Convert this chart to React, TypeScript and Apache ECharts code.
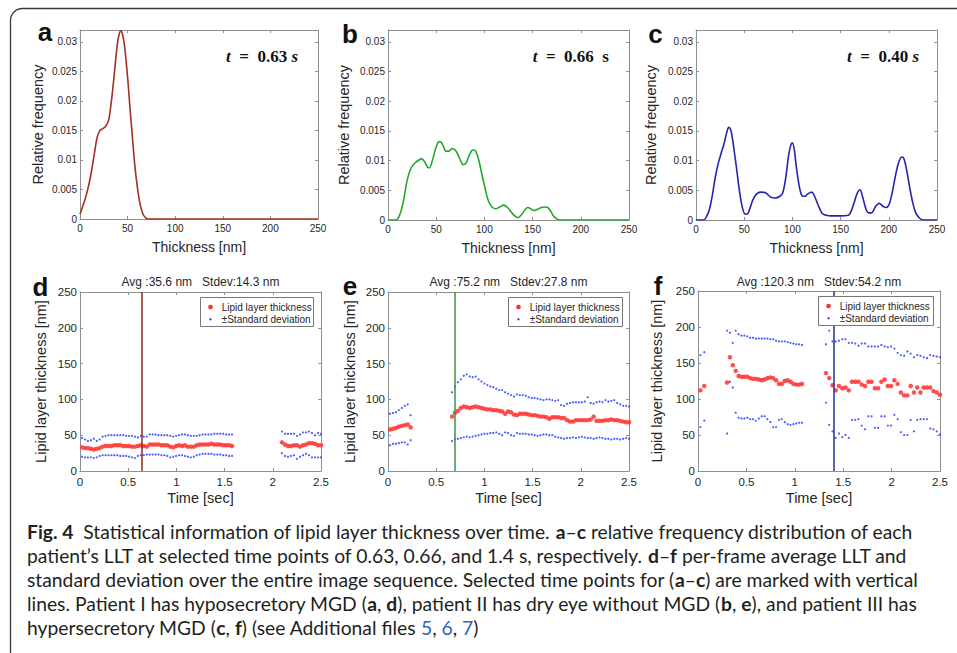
import React, { useEffect, useRef } from "react";
import * as echarts from "echarts";

// ---------- Data: relative frequency distributions [thickness nm, relative frequency]
const distA: [number, number][] = [
  [0, 0.0008], [3, 0.0022], [6, 0.0037], [9, 0.0056], [12, 0.008], [15, 0.011], [18, 0.0138],
  [21, 0.015], [24, 0.0153], [27, 0.0157], [30, 0.0167], [33, 0.02], [36, 0.0245], [39, 0.0293],
  [41, 0.0312], [43, 0.0319], [45, 0.031], [47, 0.029], [50, 0.024], [52.5, 0.0188], [55, 0.014],
  [57.5, 0.0092], [60, 0.0057], [63, 0.0026], [66, 0.0009], [69, 0.0002], [72, 0], [80, 0],
  [120, 0], [160, 0], [200, 0], [250, 0],
];
const distB: [number, number][] = [
  [0, 0], [8, 0], [12, 0.0008], [16, 0.0032], [20, 0.0068], [24, 0.0088], [28, 0.0096], [32, 0.0101],
  [35, 0.0103], [38, 0.0098], [41, 0.0089], [43, 0.0088], [46, 0.01], [49, 0.0118], [52, 0.0131],
  [54, 0.0132], [57, 0.0126], [60, 0.0116], [63, 0.0116], [66, 0.012], [69, 0.0119], [72, 0.0112],
  [75, 0.0101], [78, 0.0093], [81, 0.0096], [84, 0.0108], [87, 0.0117], [89, 0.0118], [91, 0.0116],
  [94, 0.0102], [97, 0.008], [100, 0.0058], [104, 0.0033], [108, 0.0022], [112, 0.0019], [116, 0.0022],
  [120, 0.0025], [124, 0.0021], [128, 0.0013], [132, 0.0006], [135, 0.0004], [138, 0.0008],
  [142, 0.0017], [145, 0.0021], [148, 0.0019], [151, 0.0016], [155, 0.0018], [159, 0.0021],
  [163, 0.0022], [166, 0.0021], [169, 0.0014], [172, 0.0006], [175, 0.0002], [178, 0], [182, 0],
  [200, 0], [250, 0],
];
const distC: [number, number][] = [
  [0, 0], [8, 0], [11, 0.0006], [14, 0.0018], [17, 0.0042], [20, 0.0072], [23, 0.0095], [26, 0.0112],
  [29, 0.0128], [32, 0.0148], [34, 0.0156], [36, 0.0152], [38, 0.0135], [40, 0.0112], [42, 0.0088],
  [45, 0.005], [48, 0.0022], [51, 0.001], [53, 0.001], [56, 0.002], [59, 0.0034], [63, 0.0044],
  [67, 0.0047], [72, 0.0046], [77, 0.0039], [82, 0.0037], [87, 0.004], [90, 0.0046], [93, 0.007],
  [96, 0.0108], [98, 0.0124], [100, 0.013], [102, 0.0118], [104, 0.009], [107, 0.0058], [110, 0.0041],
  [113, 0.004], [116, 0.0044], [120, 0.0047], [123, 0.004], [127, 0.0024], [131, 0.0011], [135, 0.0008],
  [140, 0.0007], [150, 0.0007], [158, 0.0008], [161, 0.0015], [164, 0.0029], [167, 0.0044], [170, 0.0051],
  [173, 0.0038], [176, 0.002], [179, 0.0012], [182, 0.0012], [186, 0.0022], [190, 0.0028], [194, 0.0023],
  [197, 0.0021], [200, 0.0025], [203, 0.0042], [206, 0.0067], [209, 0.009], [212, 0.0104], [214, 0.0106],
  [216, 0.0102], [219, 0.008], [222, 0.0052], [225, 0.0028], [228, 0.0012], [232, 0.0003], [236, 0], [250, 0],
];

// ---------- Data: per-frame LLT over time. Segments: [first frame time, last frame time, frame count]
const dSegments: [number, number, number][] = [[0.021, 1.577, 52], [2.095, 2.5, 14]];
const dMean = [
  33, 32, 32, 31, 30, 31, 32, 34, 35, 35, 35, 36, 36, 36, 35, 35, 35, 34, 34, 35, 36, 35, 34, 37, 37, 37,
  37, 36, 36, 36, 34, 33, 35, 36, 35, 36, 34, 34, 34, 36, 37, 37, 37, 37, 38, 37, 37, 37, 36, 36, 36, 35,
  40, 37, 35, 35, 36, 36, 34, 36, 37, 39, 39, 38, 36, 36,
];
const dUpper = [
  46, 44, 42, 43, 45, 42, 44, 48, 49, 50, 50, 50, 50, 50, 50, 49, 49, 49, 48, 47, 49, 48, 48, 51, 51, 51,
  50, 50, 50, 50, 49, 48, 49, 50, 51, 51, 50, 49, 49, 49, 50, 51, 51, 51, 51, 52, 52, 52, 52, 51, 51, 51,
  55, 52, 52, 52, 52, 49, 51, 54, 54, 55, 53, 50, 53, 52,
];
const dLower = [
  20, 19, 19, 19, 18, 19, 21, 22, 22, 22, 22, 22, 22, 21, 21, 21, 20, 19, 18, 21, 22, 22, 23, 23, 23, 23,
  23, 22, 22, 21, 19, 20, 21, 22, 22, 21, 20, 19, 20, 22, 23, 24, 24, 24, 24, 23, 23, 23, 22, 22, 21, 21,
  25, 21, 20, 21, 22, 17, 20, 22, 24, 22, 19, 19, 19, 19,
];

const eSegments: [number, number, number][] = [[0.021, 0.235, 8], [0.664, 2.5, 61]];
const eMean = [
  58, 59, 60, 62, 63, 64, 65, 61,
  76, 81, 84, 88, 90, 89, 88, 89, 90, 89, 88, 87, 86, 86, 85, 85, 84, 83, 80, 83, 82, 79, 78, 80, 80, 80,
  79, 78, 78, 77, 76, 76, 75, 73, 75, 75, 75, 74, 74, 71, 69, 69, 71, 71, 71, 71, 71, 72, 76, 70, 70, 70,
  71, 71, 72, 71, 71, 70, 69, 68, 68,
];
const eUpper = [
  80, 81, 82, 85, 88, 91, 93, 78,
  110, 118, 124, 128, 133, 135, 132, 131, 132, 128, 125, 122, 120, 118, 117, 115, 113, 113, 110, 108, 106,
  104, 107, 106, 106, 105, 103, 102, 102, 101, 100, 99, 100, 100, 99, 98, 99, 92, 91, 94, 95, 96, 96, 96,
  96, 97, 103, 95, 94, 96, 97, 96, 99, 97, 98, 99, 95, 93, 91, 91, 90,
];
const eLower = [
  36, 38, 38, 39, 40, 40, 37, 43,
  42, 44, 45, 46, 47, 48, 47, 48, 49, 50, 51, 52, 52, 53, 53, 54, 52, 50, 54, 53, 50, 49, 53, 52, 52, 52,
  51, 51, 50, 49, 50, 51, 51, 50, 50, 48, 47, 46, 45, 46, 46, 47, 46, 47, 48, 47, 46, 46, 45, 46, 47, 46,
  45, 45, 44, 45, 45, 44, 45, 46, 45,
];

const fSegments: [number, number, number][] = [[0.025, 0.065, 2], [0.3, 1.075, 27], [1.322, 2.5, 36]];
const fMean = [
  112, 118,
  123, 158, 147, 139, 132, 131, 131, 131, 129, 128, 128, 127, 126, 127, 129, 130, 129, 126, 121, 121, 125,
  126, 124, 121, 120, 120, 121,
  136, 129, 119, 112, 118, 115, 116, 112, 124, 124, 124, 120, 118, 124, 124, 115, 115, 124, 127, 118, 118,
  126, 121, 109, 105, 105, 118, 109, 116, 109, 116, 116, 116, 111, 109, 106,
];
const fUpper = [
  161, 165,
  195, 192, 178, 195, 190, 188, 188, 187, 185, 185, 184, 184, 184, 184, 184, 183, 183, 181, 180, 180, 180,
  179, 178, 177, 176, 176, 175,
  176, 195, 180, 180, 181, 183, 183, 178, 178, 177, 174, 177, 177, 173, 173, 173, 173, 175, 173, 172, 173,
  170, 164, 161, 160, 166, 163, 158, 161, 160, 158, 157, 161, 160, 159, 158,
];
const fLower = [
  61, 70,
  52, 124, 116, 81, 74, 73, 73, 74, 72, 72, 70, 73, 76, 76, 72, 68, 61, 61, 71, 72, 68, 65, 64, 65, 66, 67, 67,
  95, 64, 55, 46, 52, 47, 50, 46, 71, 71, 72, 63, 58, 76, 76, 60, 60, 76, 76, 63, 63, 78, 72, 54, 50, 50,
  71, 55, 71, 72, 72, 72, 59, 58, 55, 51,
];

const markTimes = [0.64, 0.69, 1.4];
const statTitles = ["Avg :35.6 nm   Stdev:14.3 nm", "Avg :75.2 nm   Stdev:27.8 nm", "Avg :120.3 nm   Stdev:54.2 nm"];
const timeLabels = ["0.63", "0.66", "0.40"];
const panelLetters = ["a", "b", "c", "d", "e", "f"];
const legendNames = ["Lipid layer thickness", "±Standard deviation"];

// ---------- Styling / layout
const SANS = "'Liberation Sans', Arial, Helvetica, sans-serif";
const SERIF = "'Liberation Serif', 'Times New Roman', serif";
const CAP = "Lato, 'Open Sans', sans-serif";
const AXIS_GRAY = "#8f8f8f";
const TXT = "#262626";
const RED = "#ff3030";
const BLUE = "#1f35ff";
const distColors = ["#a2301c", "#22a82a", "#2424b0"];
const markColors = ["#8a2a1a", "#3c9143", "#25309a"];

const GRIDS = [
  { left: 80, top: 30, width: 238, height: 189, yGap: 35 },
  { left: 388, top: 30, width: 241, height: 190, yGap: 37 },
  { left: 696, top: 30, width: 241, height: 190, yGap: 38 },
  { left: 80, top: 292, width: 241, height: 179, yGap: 31.5 },
  { left: 388, top: 292, width: 241, height: 179, yGap: 31 },
  { left: 698, top: 291, width: 242, height: 180, yGap: 34 },
];
const letterPos = [
  [45, 32], [350, 34], [655.5, 33.7], [40.5, 287], [350, 286], [658, 286],
];
const tLabelPos = [[298, 56], [609, 56], [919, 56]];
const legendBoxes = [
  { x: 200, y: 297, w: 113, h: 29 },
  { x: 508, y: 297, w: 114, h: 29 },
  { x: 818, y: 296, w: 115, h: 29 },
];

function buildTimes(segs: [number, number, number][]) {
  const t: number[] = [];
  for (const [s, e, n] of segs) {
    for (let i = 0; i < n; i++) t.push(n > 1 ? s + ((e - s) * i) / (n - 1) : s);
  }
  return t;
}

function buildOption() {
  const grid = GRIDS.map((g) => ({ left: g.left, top: g.top, width: g.width, height: g.height, show: false }));
  const xAxis: any[] = [];
  const yAxis: any[] = [];
  GRIDS.forEach((g, i) => {
    const top = i < 3;
    const common = {
      gridIndex: i,
      type: "value",
      axisLine: { show: true, onZero: false, lineStyle: { color: AXIS_GRAY, width: 1 } },
      axisTick: { show: true, inside: true, length: 3, lineStyle: { color: AXIS_GRAY, width: 1 } },
      splitLine: { show: false },
      silent: true,
    };
    const xr = top ? { min: 0, max: 250, interval: 50 } : { min: 0, max: 2.5, interval: 0.5 };
    const yr = top ? { min: 0, max: 0.032, interval: 0.005 } : { min: 0, max: 250, interval: 50 };
    const fs = top ? 10 : 11.5;
    xAxis.push({
      ...common, ...xr, position: "bottom",
      axisLabel: { color: TXT, fontSize: fs, fontFamily: SANS, margin: top ? 4 : 5 },
      name: top ? "Thickness [nm]" : "Time [sec]",
      nameLocation: "middle", nameGap: top ? 21 : 19.5,
      nameTextStyle: { color: TXT, fontSize: top ? 14 : 14.5, fontFamily: SANS },
    });
    xAxis.push({ ...common, ...xr, position: "top", axisLabel: { show: false } });
    yAxis.push({
      ...common, ...yr, position: "left",
      axisLabel: {
        color: TXT, fontSize: fs, fontFamily: SANS, margin: 3, showMaxLabel: !top,
        formatter: (v: number) => (v === 0 ? "0" : String(Math.round(v * 1000) / 1000)),
      },
      name: top ? "Relative frequency" : "Lipid layer thickness [nm]",
      nameLocation: "middle", nameGap: g.yGap,
      nameTextStyle: { color: TXT, fontSize: 14.5, fontFamily: SANS },
    });
    yAxis.push({ ...common, ...yr, position: "right", axisLabel: { show: false } });
  });

  const series: any[] = [];
  [distA, distB, distC].forEach((d, i) => {
    series.push({
      type: "line", xAxisIndex: 2 * i, yAxisIndex: 2 * i, data: d, smooth: 0.35, showSymbol: false,
      lineStyle: { color: distColors[i], width: 1.6 }, itemStyle: { color: distColors[i] }, silent: true,
    });
  });

  const ts = [
    { segs: dSegments, mean: dMean, up: dUpper, lo: dLower },
    { segs: eSegments, mean: eMean, up: eUpper, lo: eLower },
    { segs: fSegments, mean: fMean, up: fUpper, lo: fLower },
  ];
  ts.forEach((p, k) => {
    const i = 3 + k;
    const times = buildTimes(p.segs);
    const pair = (v: number[]) => v.map((y, j) => [times[j], y]);
    series.push({
      type: "scatter", name: legendNames[0], xAxisIndex: 2 * i, yAxisIndex: 2 * i,
      data: pair(p.mean), symbolSize: 4.5, itemStyle: { color: RED, opacity: 0.85 }, silent: true,
      markLine: {
        silent: true, symbol: ["none", "none"], label: { show: false },
        lineStyle: { color: markColors[k], width: 1.5, type: "solid" },
        data: [{ xAxis: markTimes[k] }],
      },
    });
    series.push({
      type: "scatter", name: legendNames[1], xAxisIndex: 2 * i, yAxisIndex: 2 * i,
      data: pair(p.up), symbolSize: 2.2, itemStyle: { color: BLUE }, silent: true,
    });
    series.push({
      type: "scatter", name: legendNames[1], xAxisIndex: 2 * i, yAxisIndex: 2 * i,
      data: pair(p.lo), symbolSize: 2.2, itemStyle: { color: BLUE }, silent: true,
    });
  });

  const graphic: any[] = [];
  // outer frame with rounded top-left corner
  graphic.push({
    type: "rect", shape: { x: 10.5, y: 8.5, width: 1000, height: 700, r: [12, 0, 0, 0] },
    style: { fill: "none", stroke: "#3a3a3a", lineWidth: 1.3 }, silent: true,
  });
  panelLetters.forEach((l, i) => {
    graphic.push({
      type: "text", x: letterPos[i][0], y: letterPos[i][1],
      style: { text: l, fontFamily: SANS, fontSize: 26, fontWeight: "bold", fill: "#111", align: "center", verticalAlign: "middle" },
    });
  });
  const it = { fontFamily: SERIF, fontSize: 17, fontWeight: "bold", fontStyle: "italic", fill: "#111" };
  const nt = { fontFamily: SERIF, fontSize: 17, fontWeight: "bold", fontStyle: "normal", fill: "#111" };
  timeLabels.forEach((t, i) => {
    const text = i === 1 ? `{i|t}{n|  =  ${t}  s}` : `{i|t}{n|  =  ${t} }{i|s}`;
    graphic.push({
      type: "text", x: tLabelPos[i][0], y: tLabelPos[i][1],
      style: { text, rich: { i: it, n: nt }, fontFamily: SERIF, fontSize: 17, fontWeight: "bold", fill: "#111", align: "right", verticalAlign: "middle" },
    });
  });
  statTitles.forEach((s, k) => {
    const g = GRIDS[3 + k];
    graphic.push({
      type: "text", x: g.left + g.width / 2, y: 282,
      style: { text: s, fontFamily: SANS, fontSize: 12, fill: TXT, align: "center", verticalAlign: "middle" },
    });
  });
  legendBoxes.forEach((b) => {
    graphic.push({
      type: "rect", shape: { x: b.x + 0.5, y: b.y + 0.5, width: b.w, height: b.h },
      style: { fill: "#fff", stroke: "#777", lineWidth: 1 }, z: 10,
    });
    graphic.push({ type: "circle", shape: { cx: b.x + 10.5, cy: b.y + 10, r: 2.3 }, style: { fill: RED }, z: 11 });
    graphic.push({ type: "circle", shape: { cx: b.x + 10.5, cy: b.y + 22.3, r: 1.1 }, style: { fill: BLUE }, z: 11 });
    graphic.push({
      type: "text", x: b.x + 21.7, y: b.y + 10, z: 11,
      style: { text: legendNames[0], fontFamily: SANS, fontSize: 10, fill: TXT, align: "left", verticalAlign: "middle" },
    });
    graphic.push({
      type: "text", x: b.x + 21.7, y: b.y + 22.3, z: 11,
      style: { text: legendNames[1], fontFamily: SANS, fontSize: 10, fill: TXT, align: "left", verticalAlign: "middle" },
    });
  });

  // caption
  const CS = 19.3;
  const capRich = {
    n: { fontFamily: CAP, fontSize: CS, fontWeight: "normal", fill: "#231f20" },
    b: { fontFamily: CAP, fontSize: CS, fontWeight: "bold", fill: "#231f20" },
    l: { fontFamily: CAP, fontSize: CS, fontWeight: "normal", fill: "#2d5fc2" },
  };
  const capLines = [
    "{b|Fig. 4}{n|  Statistical information of lipid layer thickness over time. }{b|a}{n|–}{b|c}{n| relative frequency distribution of each}",
    "{n|patient’s LLT at selected time points of 0.63, 0.66, and 1.4 s, respectively. }{b|d}{n|–}{b|f}{n| per-frame average LLT and}",
    "{n|standard deviation over the entire image sequence. Selected time points for (}{b|a}{n|–}{b|c}{n|) are marked with vertical}",
    "{n|lines. Patient I has hyposecretory MGD (}{b|a}{n|, }{b|d}{n|), patient II has dry eye without MGD (}{b|b}{n|, }{b|e}{n|), and patient III has}",
    "{n|hypersecretory MGD (}{b|c}{n|, }{b|f}{n|) (see Additional files }{l|5}{n|, }{l|6}{n|, }{l|7}{n|)}",
  ];
  capLines.forEach((t, i) => {
    graphic.push({
      type: "text", x: 27, y: 531 + i * 24.2,
      style: { text: t, rich: capRich, fontFamily: CAP, fontSize: CS, fill: "#231f20", align: "left", verticalAlign: "middle" },
    });
  });

  return { animation: false, backgroundColor: "#fff", grid, xAxis, yAxis, series, graphic };
}

export default function App() {
  const ref = useRef<HTMLDivElement>(null);
  useEffect(() => {
    const chart = echarts.init(ref.current!, null, { renderer: "svg" });
    chart.setOption(buildOption() as any);
    return () => chart.dispose();
  }, []);
  return (
    <div
      ref={ref}
      style={{ position: "absolute", left: 0, top: 0, width: 957, height: 653, background: "#fff" }}
    />
  );
}
